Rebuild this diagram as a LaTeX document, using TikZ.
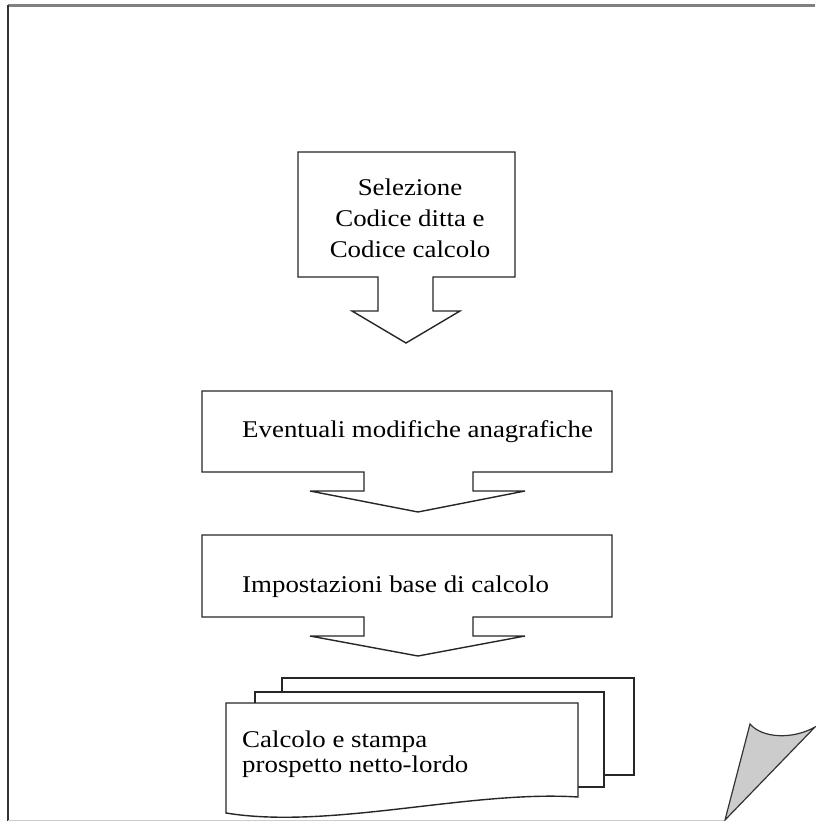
\documentclass[tikz,border=0pt]{standalone}
\usepackage{fontspec}
\setmainfont{Liberation Serif}[FakeStretch=1.12]
\usepackage{tikz}

\tikzset{
    outline/.style={-,line width=1.4pt,draw=black!85,fill=white,line join=miter},
    boxtext/.style={inner sep=0pt,font=\fontsize{24}{31}\selectfont}
}

\begin{document}
\begin{tikzpicture}[x=1pt,y=-1pt]
    \useasboundingbox (0,0) rectangle (815,821);

    % page
    \draw[-,line width=3pt,black!50](8,6)--(815,6);
    \draw[-,line width=2pt,black!80](7.5,5)--(7.5,821);
    \draw[-,line width=1pt,black!20](8,820)--(725,820);
    \filldraw[line width=1.2pt,draw=black!80,fill=black!20](725,820)--(750,724)
        .. controls (762,738) and (792,740) .. (815,727)--cycle;

    % callouts
    \draw[outline](298,152)--(515,152)--(515,277)--(433,277)--(433,311)--(460,311)
        --(406,343)--(352,311)--(378,311)--(378,277)--(298,277)--cycle;
    \draw[outline](202,391)--(612,391)--(612,472)--(473,472)--(473,491)--(525,491)
        --(418,512)--(310,491)--(364,491)--(364,472)--(202,472)--cycle;
    \draw[outline](202,535)--(612,535)--(612,617)--(473,617)--(473,636)--(525,636)
        --(418,656)--(310,636)--(364,636)--(364,617)--(202,617)--cycle;

    % stacked documents
    \draw[outline](282,678)rectangle(634,775);
    \draw[outline](255,692)rectangle(604,787);
    \draw[outline](226,703)--(578,703)--(578,797)
        .. controls (470,790) and (330,830) .. (226,813)--cycle;

    \node[boxtext,align=center](selezione)at(410,218){Selezione\\Codice ditta e\\Codice calcolo};
    \node[boxtext,anchor=west](modifiche)at(242,432){Eventuali modifiche anagrafiche};
    \node[boxtext,anchor=west](impostazioni)at(242,587){Impostazioni base di calcolo};
    \node[boxtext,anchor=west,align=left,font=\fontsize{24}{25}\selectfont](stampa)at(242,754.5){Calcolo e stampa\\prospetto netto-lordo};
\end{tikzpicture}
\end{document}
